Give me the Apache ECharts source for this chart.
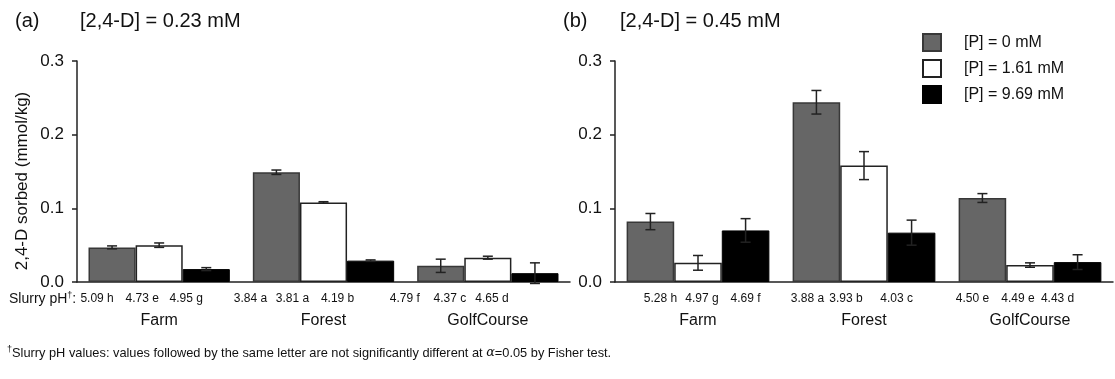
<!DOCTYPE html>
<html><head><meta charset="utf-8">
<script src="https://cdn.jsdelivr.net/npm/echarts@6/dist/echarts.min.js"></script>
<style>html,body{margin:0;padding:0;background:#fff}#c{width:1115px;height:379px}</style>
</head><body><div id="c"></div>
<script>
var categories = ['Farm', 'Forest', 'GolfCourse'];
var seriesNames = ['[P] = 0 mM', '[P] = 1.61 mM', '[P] = 9.69 mM'];
var yTicks = [0, 0.1, 0.2, 0.3];
var yAxisName = '2,4-D sorbed (mmol/kg)';
// Panel (a): [2,4-D] = 0.23 mM
var a_P0 = [0.047, 0.149, 0.022];
var a_P0_err = [0.002, 0.003, 0.009];
var a_P161 = [0.050, 0.108, 0.033];
var a_P161_err = [0.003, 0.001, 0.002];
var a_P969 = [0.0175, 0.029, 0.012];
var a_P969_err = [0.002, 0.001, 0.014];
var a_pH_P0 = ['5.09 h', '3.84 a', '4.79 f'];
var a_pH_P161 = ['4.73 e', '3.81 a', '4.37 c'];
var a_pH_P969 = ['4.95 g', '4.19 b', '4.65 d'];
// Panel (b): [2,4-D] = 0.45 mM
var b_P0 = [0.082, 0.244, 0.114];
var b_P0_err = [0.011, 0.016, 0.006];
var b_P161 = [0.026, 0.158, 0.023];
var b_P161_err = [0.010, 0.019, 0.003];
var b_P969 = [0.070, 0.067, 0.027];
var b_P969_err = [0.016, 0.017, 0.010];
var b_pH_P0 = ['5.28 h', '3.88 a', '4.50 e'];
var b_pH_P161 = ['4.97 g', '3.93 b', '4.49 e'];
var b_pH_P969 = ['4.69 f', '4.03 c', '4.43 d'];

// ---- layout / style ----
var FONT = '"Liberation Sans", Arial, sans-serif';
var GAP = 0.14;
// horizontal nudges of the pH labels [panel][category][bar]
var PH_DX = [
  [[-15, -17, -20], [-26, -31, -33], [-36, -38, -43]],
  [[10, 4, 0], [-9, -18, -15], [-10, -12, -20]]
];
var styles = [
  {color: '#666666', borderColor: '#383838', borderWidth: 1.5},
  {color: '#ffffff', borderColor: '#222222', borderWidth: 1.5},
  {color: '#000000', borderColor: '#000000', borderWidth: 1}
];

function barSeries(idx, k, vals, phs) {
  return {
    type: 'bar', name: seriesNames[k], xAxisIndex: idx, yAxisIndex: idx,
    barGap: '0%', barCategoryGap: (GAP * 100) + '%',
    itemStyle: styles[k],
    data: vals.map(function (v, i) {
      return {value: v, label: {formatter: phs[i], offset: [PH_DX[idx][i][k], 0]}};
    }),
    label: {show: true, position: 'bottom', distance: 11, color: '#111',
      fontFamily: FONT, fontSize: 12},
    z: 2
  };
}
function errSeries(idx, k, vals, errs) {
  return {
    type: 'custom', name: 'err' + idx + k, xAxisIndex: idx, yAxisIndex: idx, z: 5,
    renderItem: function (params, api) {
      var c = api.value(0), v = api.value(1), e = api.value(2), kk = api.value(3);
      var band = api.size([1, 0])[0];
      var bw = band * (1 - GAP) / 3;
      var hi = api.coord([c, v + e]);
      var lo = api.coord([c, v - e]);
      var x = hi[0] + (kk - 1) * bw;
      var cap = 5;
      var st = {stroke: '#222', lineWidth: 1.5, fill: null};
      return {type: 'group', children: [
        {type: 'line', shape: {x1: x, y1: hi[1], x2: x, y2: lo[1]}, style: st},
        {type: 'line', shape: {x1: x - cap, y1: hi[1], x2: x + cap, y2: hi[1]}, style: st},
        {type: 'line', shape: {x1: x - cap, y1: lo[1], x2: x + cap, y2: lo[1]}, style: st}
      ]};
    },
    data: vals.map(function (v, i) { return [i, v, errs[i], k]; }),
    silent: true
  };
}
function xAx(idx) {
  return {type: 'category', gridIndex: idx, data: categories,
    axisLine: {lineStyle: {color: '#222', width: 1.5}},
    axisTick: {show: false},
    axisLabel: {margin: 31, color: '#111', fontFamily: FONT, fontSize: 16}};
}
function yAx(idx) {
  return {type: 'value', gridIndex: idx, min: yTicks[0], max: yTicks[yTicks.length - 1],
    interval: yTicks[1] - yTicks[0],
    axisLine: {show: true, lineStyle: {color: '#222', width: 1.5}},
    axisTick: {show: true, length: 5, lineStyle: {color: '#222', width: 1.5}},
    splitLine: {show: false},
    axisLabel: {margin: 13, color: '#111', fontFamily: FONT, fontSize: 17,
      formatter: function (v) { return v.toFixed(1); }}};
}
var titleStyle = {fontFamily: FONT, fontSize: 20, fontWeight: 'normal', color: '#111'};

var chart = echarts.init(document.getElementById('c'), null, {renderer: 'canvas'});
chart.setOption({
  backgroundColor: '#fff',
  animation: false,
  textStyle: {fontFamily: FONT},
  grid: [
    {left: 77, top: 61, width: 493, height: 221},
    {left: 615, top: 61, width: 498, height: 221}
  ],
  xAxis: [xAx(0), xAx(1)],
  yAxis: [yAx(0), yAx(1)],
  legend: {
    data: seriesNames, orient: 'vertical', left: 922, top: 33, icon: 'rect', padding: 0,
    itemWidth: 18, itemHeight: 17, itemGap: 7,
    textStyle: {fontFamily: FONT, fontSize: 16, color: '#111', padding: [0, 0, 0, 18]}
  },
  title: [
    {text: '(a)', left: 10, top: 6, textStyle: titleStyle},
    {text: '[2,4-D] = 0.23 mM', left: 75, top: 6, textStyle: titleStyle},
    {text: '(b)', left: 558, top: 6, textStyle: titleStyle},
    {text: '[2,4-D] = 0.45 mM', left: 615, top: 6, textStyle: titleStyle}
  ],
  graphic: [
    {type: 'text', x: 22, y: 181, rotation: Math.PI / 2, style: {
      text: yAxisName, fill: '#111', font: '17px ' + FONT,
      align: 'center', verticalAlign: 'middle'}},
    {type: 'text', left: 9, top: 291, style: {
      text: '{m|Slurry pH}{s|†}{m|:}', fill: '#111',
      rich: {m: {fontFamily: FONT, fontSize: 14, fill: '#111'},
             s: {fontFamily: FONT, fontSize: 9, fill: '#111', padding: [0, 0, 7, 0]}}}},
    {type: 'text', left: 7, top: 345, style: {
      text: '{s|†}{m|Slurry pH values: values followed by the same letter are not significantly different at }{g|α}{m|=0.05 by Fisher test.}',
      fill: '#111',
      rich: {m: {fontFamily: FONT, fontSize: 12.8, fill: '#111'},
             g: {fontFamily: '"DejaVu Serif", serif', fontStyle: 'italic', fontSize: 12.8, fill: '#111'},
             s: {fontFamily: FONT, fontSize: 9, fill: '#111', padding: [0, 0, 7, 0]}}}}
  ],
  series: [
    barSeries(0, 0, a_P0, a_pH_P0), barSeries(0, 1, a_P161, a_pH_P161), barSeries(0, 2, a_P969, a_pH_P969),
    barSeries(1, 0, b_P0, b_pH_P0), barSeries(1, 1, b_P161, b_pH_P161), barSeries(1, 2, b_P969, b_pH_P969),
    errSeries(0, 0, a_P0, a_P0_err), errSeries(0, 1, a_P161, a_P161_err), errSeries(0, 2, a_P969, a_P969_err),
    errSeries(1, 0, b_P0, b_P0_err), errSeries(1, 1, b_P161, b_P161_err), errSeries(1, 2, b_P969, b_P969_err)
  ]
});
</script></body></html>
